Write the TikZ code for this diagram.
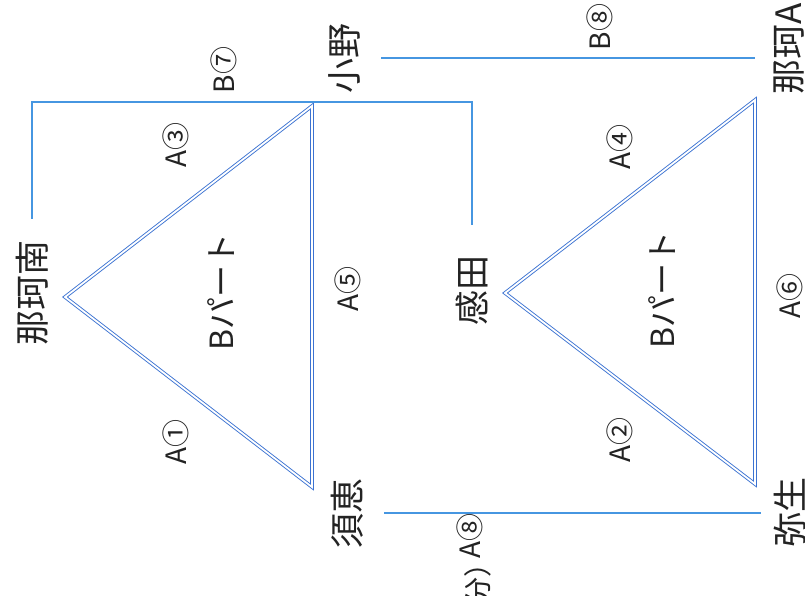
\documentclass[tikz,border=0pt]{standalone}
\usepackage{fontspec}
\setmainfont{Noto Sans CJK JP}
\usepackage{tikz}
\begin{document}
\begin{tikzpicture}[x=1pt,y=-1pt,line cap=rect,
	station/.style={rotate=90,inner sep=2pt,text=custcol_txt,font=\fontsize{35pt}{35pt}\selectfont},
	partlbl/.style={rotate=90,inner sep=0,text=custcol_txt,font=\fontsize{32pt}{32pt}\selectfont},
	seclbl/.style={rotate=90,inner sep=0,text=custcol_txt,font=\fontsize{28pt}{28pt}\selectfont},
	route/.style={line width=1.3pt,custcol_route},
	tri/.style={draw=custcol_tri,line width=0.9pt,double=white,double distance=1.8pt,line join=miter}]
						\definecolor{custcol_txt}{RGB}{35, 35, 35}
						\definecolor{custcol_route}{RGB}{70, 150, 225}
						\definecolor{custcol_tri}{RGB}{60, 115, 210}
						\useasboundingbox (0.0,0.0) rectangle (805.0,595.0);
						% triangle corners
						\coordinate (t1a) at (65.0,297.0);
						\coordinate (t1b) at (312.0,106.0);
						\coordinate (t1c) at (312.0,487.0);
						\coordinate (t2a) at (505.0,293.0);
						\coordinate (t2b) at (755.0,100.0);
						\coordinate (t2c) at (755.0,484.0);
						\draw [tri] (t1a) -- (t1b) -- (t1c) -- cycle;
						\draw [tri] (t2a) -- (t2b) -- (t2c) -- cycle;
						% stations
						\node[station] (nakaminami) at (32.0,293.0) {那珂南};
						\node[station] (ono) at (344.0,58.0) {小野};
						\node[station, anchor=west] (nakaA) at (789.0,97.0) {那珂A};
						\node[station] (sue) at (347.0,513.0) {須恵};
						\node[station] (yayoi) at (790.0,512.0) {弥生};
						\node[station] (kanda) at (472.0,290.0) {感田};
						% routes
						\draw [route, shorten <=20pt, shorten >=28pt] (nakaminami.east) -- (nakaminami.east |- 0.0,102.0) -| (kanda.east);
						\draw [route, shorten <=20pt, shorten >=17pt] (ono.south) -- (ono.south -| nakaA.north);
						\draw [route, shorten <=19pt, shorten >=11pt] (sue.south) -- (sue.south -| yayoi.north);
						% parts
						\node[partlbl] (part1) at (221.0,292.0) {Bパート};
						\node[partlbl] (part2) at (662.0,290.0) {Bパート};
						% sections
						\node[seclbl] (secA1) at (176.0,442.0) {A①};
						\node[seclbl] (secA2) at (620.0,440.0) {A②};
						\node[seclbl] (secA3) at (176.0,145.0) {A③};
						\node[seclbl] (secA4) at (620.0,147.0) {A④};
						\node[seclbl] (secA5) at (348.0,289.0) {A⑤};
						\node[seclbl] (secA6) at (790.0,296.0) {A⑥};
						\node[seclbl] (secB7) at (224.0,70.0) {B⑦};
						\node[seclbl] (secB8) at (600.0,27.0) {B⑧};
						\node[seclbl] (secA8) at (470.0,536.0) {A⑧};
						\node[seclbl, anchor=east] (note) at (478.0,549.0) {分）};
					\end{tikzpicture}
\end{document}
